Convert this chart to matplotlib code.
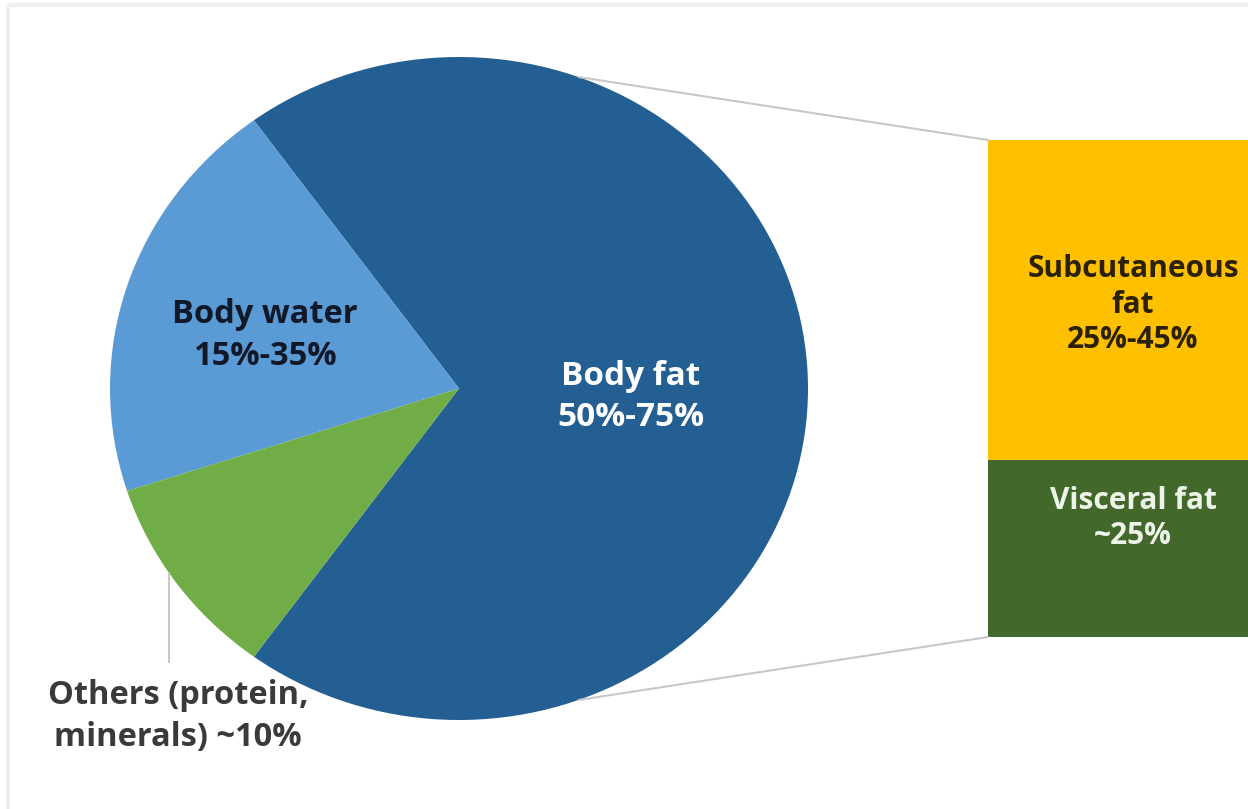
import matplotlib
matplotlib.use("Agg")
import numpy as np
from matplotlib import pyplot as plt
from matplotlib.patches import ConnectionPatch, Rectangle

# pie: share of each component
pie_labels = ["Body fat\n50%-75%", "Body water\n15%-35%", "Others (protein,\nminerals) ~10%"]
pie_values = [70, 20, 10]
pie_colors = ["#245f93", "#5b9bd5", "#70ad47"]

# bar: breakdown of body fat
bar_labels = ["Visceral fat\n~25%", "Subcutaneous\nfat\n25%-45%"]
bar_values = [25, 45]
bar_colors = ["#43682b", "#ffc000"]

W, H = 1248, 809
plt.rcParams["font.family"] = ["Open Sans", "DejaVu Sans"]
fig = plt.figure(figsize=(W / 100, H / 100), dpi=100)


def px_box(x0, y0, x1, y1):
    """Axes rectangle from pixel corners (origin at top left)."""
    return [x0 / W, (H - y1) / H, (x1 - x0) / W, (y1 - y0) / H]


# background frame
bg = fig.add_axes([0, 0, 1, 1])
bg.set_xlim(0, W)
bg.set_ylim(H, 0)
bg.axis("off")
bg.add_patch(Rectangle((8, 5), W + 50, H + 50, fill=False,
                       edgecolor="#efefef", linewidth=3))

# pie
ax_pie = fig.add_axes(px_box(110, 57, 808, 720))
ax_pie.pie(pie_values, colors=pie_colors, startangle=-126,
           counterclock=True, wedgeprops=dict(linewidth=0))
ax_pie.set_aspect("auto")
ax_pie.set_xlim(-1, 1)
ax_pie.set_ylim(-1, 1)
ax_pie.axis("off")

ax_pie.text(0.493, -0.026, pie_labels[0], ha="center", va="center",
            fontsize=24, fontweight="bold", color="white", linespacing=1.35)
ax_pie.text(-0.556, 0.161, pie_labels[1], ha="center", va="center",
            fontsize=23.5, fontweight="bold", color="#111827", linespacing=1.35)

# leader line and label for the small slice
lead = np.deg2rad(213.8)
ax_pie.plot([np.cos(lead), np.cos(lead)], [np.sin(lead), -0.825],
            color="#c8c8c8", linewidth=1.5, clip_on=False)
ax_pie.text(-0.805, -0.99, pie_labels[2], ha="center", va="center",
            fontsize=23.5, fontweight="bold", color="#3a3a3a",
            linespacing=1.35, clip_on=False)

# stacked bar
ax_bar = fig.add_axes(px_box(988, 140, 1278, 637))
bottom = 0
for val, col in zip(bar_values, bar_colors):
    ax_bar.bar(0, val, width=1, bottom=bottom, color=col, linewidth=0)
    bottom += val
ax_bar.set_xlim(-0.5, 0.5)
ax_bar.set_ylim(0, sum(bar_values))
ax_bar.axis("off")

ax_bar.text(0, 16.7, bar_labels[0], ha="center", va="center",
            fontsize=21.5, fontweight="bold", color="#eef4ea", linespacing=1.25)
ax_bar.text(0, 46.8, bar_labels[1], ha="center", va="center",
            fontsize=21.5, fontweight="bold", color="#2a2108", linespacing=1.25)

# connector lines from the pie edge to the bar
for ang, ybar in [(70, sum(bar_values)), (-70, 0)]:
    a = np.deg2rad(ang)
    con = ConnectionPatch(xyA=(np.cos(a), np.sin(a)), coordsA=ax_pie.transData,
                          xyB=(-0.5, ybar), coordsB=ax_bar.transData,
                          color="#c8c8c8", linewidth=1.5)
    fig.add_artist(con)

fig.savefig("out.png", dpi=100)
